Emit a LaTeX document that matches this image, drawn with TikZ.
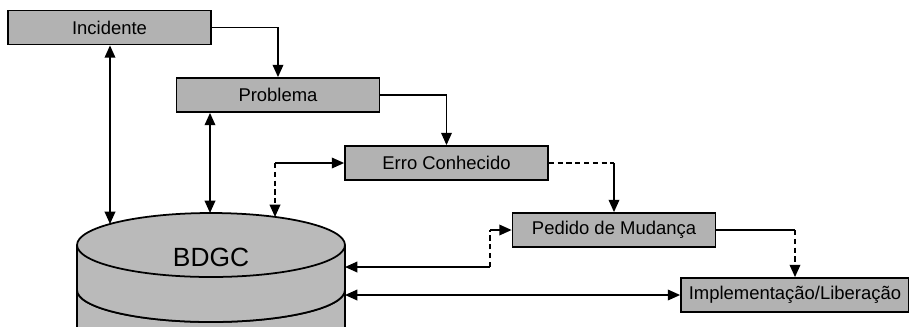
\documentclass[tikz,border=0pt]{standalone}
\usepackage{fontspec}
\setmainfont{Liberation Sans}
\usetikzlibrary{arrows.meta}
\definecolor{boxfill}{HTML}{B2B2B2}
\definecolor{dbfill}{HTML}{BABABA}

\begin{document}
\begin{tikzpicture}[x=0.02cm,y=-0.02cm,>={Triangle[length=7pt,width=6pt]},
  font=\fontsize{10.5}{12}\selectfont,line width=1pt,
  stage/.style={draw,fill=boxfill,minimum width=4.06cm,minimum height=0.68cm,inner sep=1pt},
  soft/.style={dash pattern=on 3pt off 2pt},
  rim/.style={start angle=180,end angle=360,x radius=2.68cm,y radius=0.64cm}]
\useasboundingbox (0,0) rectangle (909,326);
\clip (0,0) rectangle (909,326);
% lower disk, cut by the page
\draw[fill=dbfill] (77,290) arc[rim] -- (345,400) -- (77,400) -- cycle;
% BDGC cylinder
\fill[dbfill] (77,245) -- (77,290) arc[rim] -- (345,245) -- cycle;
\draw (77,245) -- (77,290) arc[rim] -- (345,245);
\draw[fill=dbfill] (211,245) ellipse [x radius=2.68cm,y radius=0.64cm];
\node (db) at (211,257) {\fontsize{15}{18}\selectfont BDGC};
\coordinate (dbA) at (110,224);
\coordinate (dbB) at (210,213);
\coordinate (dbC) at (275,217);
\coordinate (dbD) at (345,267);
\coordinate (dbE) at (345,295);
\coordinate (pedBend) at (490,267);
% stages
\node[stage] (inc) at (109.5,27.5) {Incidente};
\node[stage] (prob) at (278,95) {Problema};
\node[stage] (erro) at (446.5,163) {Erro Conhecido};
\node[stage] (ped) at (614,230) {Pedido de Mudança};
\node[stage,minimum width=4.56cm] (impl) at (795,295) {Implementação/Liberação};
% flow
\draw[->] (inc.east) -| (prob.north);
\draw[->] (prob.east) -| (erro.north);
\draw[soft] (erro.east) -- (erro.east -| ped.north);
\draw[->] (erro.east -| ped.north) -- (ped.north);
\draw (ped.east) -- (ped.east -| impl.north);
\draw[soft,->] (ped.east -| impl.north) -- (impl.north);
% links to the database
\draw[<->] (inc.south -| dbA) -- (dbA);
\draw[<->] (prob.south -| dbB) -- (dbB);
\draw[->] (erro.west -| dbC) -- (erro.west);
\draw[soft,->] (erro.west -| dbC) -- (dbC);
\draw[<-] (dbD) -- (pedBend);
\draw[soft] (pedBend) -- (pedBend |- ped.west);
\draw[->] (pedBend |- ped.west) -- (ped.west);
\draw[<->] (dbE) -- (impl.west);
\end{tikzpicture}
\end{document}
